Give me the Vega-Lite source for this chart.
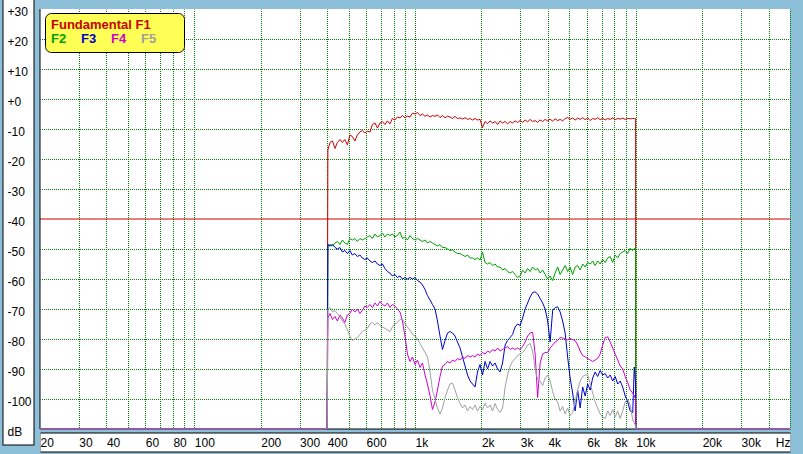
{
"$schema":"https://vega.github.io/schema/vega-lite/v6.json",
"width":750,"height":420,
"autosize":{"type":"none"},
"padding":{"left":40,"top":9,"right":13,"bottom":25},
"background":"#8EBFD9",
"config":{"view":{"stroke":null,"fill":"white"}},
"data":{"values":[
{"f":20,"F1":-110,"F2":-110,"F3":-110,"F4":-110,"F5":-110},
{"f":400,"F1":-110,"F2":-110,"F3":-110,"F4":-110,"F5":-110},
{"f":403,"F1":-17,"F2":-49,"F3":-48.5,"F4":-73,"F5":-70},
{"f":412,"F1":-14.5,"F2":-48.5,"F3":-49,"F4":-71.5,"F5":-69.5},
{"f":423,"F1":-14,"F2":-49,"F3":-48.5,"F4":-73.5,"F5":-71},
{"f":434,"F1":-16.5,"F2":-48,"F3":-49.5,"F4":-72.5,"F5":-70.5},
{"f":445,"F1":-14.5,"F2":-47.5,"F3":-50,"F4":-74,"F5":-71.5},
{"f":457,"F1":-13.5,"F2":-48.5,"F3":-49.5,"F4":-72,"F5":-72.5},
{"f":469,"F1":-14.5,"F2":-47,"F3":-51,"F4":-73,"F5":-74},
{"f":481,"F1":-13.5,"F2":-48,"F3":-50.5,"F4":-74.5,"F5":-75},
{"f":494,"F1":-15.3,"F2":-48.5,"F3":-51.5,"F4":-72,"F5":-77},
{"f":507,"F1":-12,"F2":-46.5,"F3":-50.5,"F4":-71.5,"F5":-79},
{"f":520,"F1":-12.5,"F2":-47,"F3":-52,"F4":-70,"F5":-80.5},
{"f":534,"F1":-14,"F2":-46.5,"F3":-51.5,"F4":-71,"F5":-80},
{"f":548,"F1":-12,"F2":-47.5,"F3":-52.5,"F4":-70,"F5":-79.5},
{"f":563,"F1":-11,"F2":-46.5,"F3":-52,"F4":-71.5,"F5":-78.5},
{"f":577,"F1":-10.5,"F2":-47,"F3":-53,"F4":-70.5,"F5":-77.5},
{"f":593,"F1":-11.3,"F2":-46.5,"F3":-53.5,"F4":-69,"F5":-77},
{"f":608,"F1":-10.7,"F2":-46,"F3":-53,"F4":-69.5,"F5":-76.5},
{"f":625,"F1":-11,"F2":-45.5,"F3":-54,"F4":-68.5,"F5":-75},
{"f":641,"F1":-8.5,"F2":-46.5,"F3":-54.5,"F4":-69.5,"F5":-74.5},
{"f":659,"F1":-8,"F2":-45,"F3":-54,"F4":-68,"F5":-75.3},
{"f":676,"F1":-9.7,"F2":-46,"F3":-55,"F4":-69,"F5":-74.5},
{"f":694,"F1":-8,"F2":-45.5,"F3":-55.5,"F4":-67.5,"F5":-75.5},
{"f":712,"F1":-7.5,"F2":-44.7,"F3":-55,"F4":-68.5,"F5":-76},
{"f":731,"F1":-8.5,"F2":-46,"F3":-56.5,"F4":-69,"F5":-76.5},
{"f":750,"F1":-7.3,"F2":-45,"F3":-57.5,"F4":-68,"F5":-77},
{"f":770,"F1":-8.3,"F2":-45.5,"F3":-58,"F4":-69.5,"F5":-77.5},
{"f":790,"F1":-6.5,"F2":-45,"F3":-59,"F4":-68.5,"F5":-76},
{"f":811,"F1":-7,"F2":-46,"F3":-58.5,"F4":-69,"F5":-75},
{"f":832,"F1":-6,"F2":-45.5,"F3":-59.5,"F4":-70,"F5":-74.5},
{"f":855,"F1":-6.3,"F2":-44.3,"F3":-59,"F4":-71,"F5":-73.5},
{"f":877,"F1":-5.5,"F2":-46.5,"F3":-60,"F4":-74,"F5":-73.3},
{"f":901,"F1":-6.3,"F2":-46,"F3":-59.5,"F4":-79,"F5":-75},
{"f":924,"F1":-5.7,"F2":-47,"F3":-60,"F4":-85,"F5":-76},
{"f":949,"F1":-6,"F2":-45.5,"F3":-59.5,"F4":-87.5,"F5":-77},
{"f":974,"F1":-4.7,"F2":-46.5,"F3":-60,"F4":-86,"F5":-78.5},
{"f":1000,"F1":-5,"F2":-47,"F3":-59.5,"F4":-88.5,"F5":-79},
{"f":1026,"F1":-4.5,"F2":-46.5,"F3":-60.5,"F4":-87,"F5":-80},
{"f":1054,"F1":-5.5,"F2":-47,"F3":-61,"F4":-89.5,"F5":-81.5},
{"f":1081,"F1":-5,"F2":-47.5,"F3":-62,"F4":-88,"F5":-83},
{"f":1110,"F1":-5.8,"F2":-47,"F3":-63.5,"F4":-92,"F5":-84.5},
{"f":1139,"F1":-5.3,"F2":-48,"F3":-65.5,"F4":-95,"F5":-86},
{"f":1170,"F1":-6,"F2":-47.5,"F3":-67,"F4":-99,"F5":-91},
{"f":1200,"F1":-5.5,"F2":-48,"F3":-68.5,"F4":-103.5,"F5":-97},
{"f":1232,"F1":-5.8,"F2":-48.5,"F3":-70,"F4":-101,"F5":-100},
{"f":1264,"F1":-5.3,"F2":-49,"F3":-74,"F4":-97,"F5":-103},
{"f":1298,"F1":-6.2,"F2":-48.5,"F3":-79,"F4":-92.5,"F5":-105},
{"f":1332,"F1":-5.5,"F2":-49.5,"F3":-83.5,"F4":-89,"F5":-103},
{"f":1368,"F1":-6.3,"F2":-49.5,"F3":-80.5,"F4":-88.5,"F5":-99.5},
{"f":1404,"F1":-5.7,"F2":-50,"F3":-78,"F4":-87.5,"F5":-97},
{"f":1441,"F1":-6,"F2":-50.5,"F3":-77.5,"F4":-88,"F5":-95},
{"f":1479,"F1":-6.5,"F2":-50.3,"F3":-78,"F4":-87,"F5":-94.7},
{"f":1518,"F1":-5.8,"F2":-51,"F3":-79,"F4":-87.5,"F5":-97},
{"f":1558,"F1":-6.5,"F2":-51.5,"F3":-81,"F4":-86.5,"F5":-99.5},
{"f":1600,"F1":-6.3,"F2":-51.5,"F3":-83,"F4":-87,"F5":-101.5},
{"f":1642,"F1":-6.7,"F2":-52,"F3":-86,"F4":-86,"F5":-103},
{"f":1686,"F1":-6.2,"F2":-52.5,"F3":-89,"F4":-86.5,"F5":-102},
{"f":1730,"F1":-6.8,"F2":-52,"F3":-92,"F4":-85.5,"F5":-104},
{"f":1776,"F1":-6.5,"F2":-53,"F3":-94,"F4":-86,"F5":-102.5},
{"f":1823,"F1":-7,"F2":-53,"F3":-95,"F4":-85.5,"F5":-103.5},
{"f":1871,"F1":-6.5,"F2":-53.5,"F3":-96,"F4":-86,"F5":-102},
{"f":1920,"F1":-7,"F2":-53,"F3":-91,"F4":-85,"F5":-104},
{"f":1971,"F1":-6.8,"F2":-53.7,"F3":-88.5,"F4":-85.5,"F5":-102.5},
{"f":2023,"F1":-9.5,"F2":-51,"F3":-92,"F4":-84.5,"F5":-103.5},
{"f":2077,"F1":-7.5,"F2":-54.5,"F3":-87.5,"F4":-85,"F5":-101.5},
{"f":2132,"F1":-8.2,"F2":-55,"F3":-90,"F4":-84,"F5":-103},
{"f":2188,"F1":-7.3,"F2":-54.5,"F3":-87.5,"F4":-84.5,"F5":-102},
{"f":2246,"F1":-8,"F2":-55.5,"F3":-89,"F4":-83.5,"F5":-104},
{"f":2306,"F1":-7.5,"F2":-55,"F3":-88,"F4":-84,"F5":-101.5},
{"f":2367,"F1":-8.5,"F2":-56,"F3":-90,"F4":-83,"F5":-103.5},
{"f":2429,"F1":-7.3,"F2":-56,"F3":-91,"F4":-84,"F5":-104.5},
{"f":2493,"F1":-8,"F2":-57,"F3":-88,"F4":-83.5,"F5":-103},
{"f":2560,"F1":-7.5,"F2":-56.5,"F3":-82,"F4":-83,"F5":-96},
{"f":2627,"F1":-8.3,"F2":-57.5,"F3":-80.5,"F4":-82.5,"F5":-92},
{"f":2697,"F1":-7.5,"F2":-58,"F3":-79.5,"F4":-83.5,"F5":-89},
{"f":2768,"F1":-8,"F2":-57.5,"F3":-78.5,"F4":-83,"F5":-87.5},
{"f":2841,"F1":-7.3,"F2":-58.5,"F3":-76,"F4":-83.5,"F5":-86.5},
{"f":2917,"F1":-7.8,"F2":-59.5,"F3":-75,"F4":-83,"F5":-85.5},
{"f":2994,"F1":-7.2,"F2":-59,"F3":-75.5,"F4":-83.5,"F5":-85},
{"f":3073,"F1":-7.8,"F2":-57,"F3":-73,"F4":-82.5,"F5":-84.5},
{"f":3155,"F1":-7,"F2":-58,"F3":-70,"F4":-81,"F5":-83.5},
{"f":3238,"F1":-7.6,"F2":-56.5,"F3":-68,"F4":-79,"F5":-82},
{"f":3323,"F1":-6.8,"F2":-57.5,"F3":-66,"F4":-78,"F5":-81.5},
{"f":3412,"F1":-7.5,"F2":-56,"F3":-64.5,"F4":-77.7,"F5":-84},
{"f":3502,"F1":-7.2,"F2":-57,"F3":-64.3,"F4":-85,"F5":-90},
{"f":3594,"F1":-7.8,"F2":-56.5,"F3":-65,"F4":-99.5,"F5":-93.5},
{"f":3689,"F1":-7,"F2":-58,"F3":-66.5,"F4":-88,"F5":-94},
{"f":3787,"F1":-7.5,"F2":-57,"F3":-68,"F4":-85,"F5":-95.5},
{"f":3887,"F1":-6.8,"F2":-58.5,"F3":-70,"F4":-84.5,"F5":-93},
{"f":3990,"F1":-7.3,"F2":-60,"F3":-74,"F4":-84.5,"F5":-92},
{"f":4095,"F1":-6.7,"F2":-59,"F3":-81,"F4":-83,"F5":-94},
{"f":4204,"F1":-7.4,"F2":-60.5,"F3":-70.5,"F4":-82,"F5":-97.5},
{"f":4314,"F1":-6.6,"F2":-58,"F3":-69.5,"F4":-81,"F5":-100},
{"f":4429,"F1":-7.2,"F2":-56,"F3":-69.3,"F4":-80.5,"F5":-101},
{"f":4546,"F1":-6.8,"F2":-58.5,"F3":-71,"F4":-79.5,"F5":-104},
{"f":4666,"F1":-7.3,"F2":-57,"F3":-74,"F4":-79.7,"F5":-102.5},
{"f":4789,"F1":-6.5,"F2":-55.5,"F3":-78,"F4":-80,"F5":-105},
{"f":4916,"F1":-6.2,"F2":-57.5,"F3":-86,"F4":-80.3,"F5":-103},
{"f":5045,"F1":-6.8,"F2":-56,"F3":-93,"F4":-79.8,"F5":-105.5},
{"f":5179,"F1":-6.3,"F2":-58.5,"F3":-98,"F4":-80.2,"F5":-104.5},
{"f":5316,"F1":-7,"F2":-56,"F3":-104,"F4":-80.5,"F5":-101},
{"f":5456,"F1":-6.4,"F2":-55.5,"F3":-97,"F4":-82,"F5":-97},
{"f":5601,"F1":-6.8,"F2":-57,"F3":-103,"F4":-84,"F5":-94},
{"f":5749,"F1":-6.2,"F2":-55,"F3":-96,"F4":-85.5,"F5":-92.5},
{"f":5901,"F1":-6.9,"F2":-56,"F3":-99,"F4":-86,"F5":-92},
{"f":6057,"F1":-6.3,"F2":-54.5,"F3":-95,"F4":-86.5,"F5":-92},
{"f":6218,"F1":-7.2,"F2":-55,"F3":-97,"F4":-87,"F5":-95},
{"f":6382,"F1":-6.5,"F2":-54,"F3":-93,"F4":-87.5,"F5":-98},
{"f":6551,"F1":-6.8,"F2":-55.5,"F3":-91,"F4":-87,"F5":-101},
{"f":6724,"F1":-6.2,"F2":-54,"F3":-92.5,"F4":-86.5,"F5":-103},
{"f":6902,"F1":-6.9,"F2":-55,"F3":-90.5,"F4":-85,"F5":-105},
{"f":7084,"F1":-6.4,"F2":-53.5,"F3":-92,"F4":-82,"F5":-106},
{"f":7272,"F1":-7,"F2":-54.5,"F3":-91.5,"F4":-79.5,"F5":-106.5},
{"f":7464,"F1":-6.5,"F2":-53,"F3":-93,"F4":-79.3,"F5":-104},
{"f":7662,"F1":-6.8,"F2":-52.5,"F3":-92,"F4":-81,"F5":-105.5},
{"f":7864,"F1":-6.3,"F2":-54.5,"F3":-94,"F4":-83,"F5":-103.5},
{"f":8072,"F1":-6.9,"F2":-52,"F3":-92.5,"F4":-85,"F5":-106},
{"f":8286,"F1":-6.5,"F2":-53,"F3":-95,"F4":-87,"F5":-104},
{"f":8505,"F1":-6.7,"F2":-51.5,"F3":-94,"F4":-89,"F5":-106.5},
{"f":8730,"F1":-6.4,"F2":-51,"F3":-96,"F4":-90,"F5":-104},
{"f":8961,"F1":-6.8,"F2":-50.5,"F3":-99,"F4":-92.5,"F5":-101},
{"f":9198,"F1":-6.5,"F2":-51.5,"F3":-101,"F4":-94.5,"F5":-100},
{"f":9442,"F1":-6.6,"F2":-49.7,"F3":-104,"F4":-97,"F5":-102},
{"f":9692,"F1":-6.5,"F2":-50.5,"F3":-104.5,"F4":-98,"F5":-107},
{"f":9850,"F1":-6.5,"F2":-50,"F3":-89.3,"F4":-99,"F5":-108},
{"f":9990,"F1":-6.5,"F2":-49.5,"F3":-95,"F4":-100,"F5":-109},
{"f":10000,"F1":-110,"F2":-110,"F3":-110,"F4":-110,"F5":-110},
{"f":50000,"F1":-110,"F2":-110,"F3":-110,"F4":-110,"F5":-110}
]},
"resolve":{"axis":{"x":"independent","y":"independent"}},
"layer":[
{"data":{"values":[{"v":-40}]},"mark":{"type":"rule","color":"#CC0000","strokeWidth":1},
 "encoding":{"y":{"field":"v","type":"quantitative","axis":null}}},
{"data":{"values":[{"v":-110}]},"mark":{"type":"rule","color":"black","strokeWidth":1},
 "encoding":{"y":{"field":"v","type":"quantitative","axis":null}}},
{"data":{"values":[{"v":20}]},"mark":{"type":"rule","color":"black","strokeWidth":1},
 "encoding":{"x":{"field":"v","type":"quantitative","axis":null}}},
{"mark":{"type":"line","strokeWidth":1,"clip":false},
 "encoding":{
  "x":{"field":"f","type":"quantitative","scale":{"type":"log","domain":[20,50000],"nice":false},
   "axis":{"orient":"bottom","title":null,"labels":false,"ticks":false,"grid":false,"domain":true,"domainColor":"black","domainWidth":20,"domainCap":"butt","offset":13}},
  "y":{"field":"F1","type":"quantitative","scale":{"domain":[-110,30],"nice":false,"zero":false},
   "axis":{"orient":"left","title":null,"labels":false,"ticks":false,"grid":false,"domain":true,"domainColor":"black","domainWidth":32,"domainCap":"square","offset":22}},
  "color":{"datum":"F1","type":"nominal",
   "scale":{"domain":["F1","F2","F3","F4","F5"],"range":["#CC0000","#00A000","#0000D0","#D000D0","#A0A0A0"]},
   "legend":{"orient":"none","legendX":5,"legendY":4,"values":["F2","F3","F4","F5","F1"],
    "title":"Fundamental F1","titleColor":"#C80000","titleFont":"Liberation Sans","titleFontSize":13,"titleFontWeight":"bold","titlePadding":0,
    "labelExpr":"datum.value == 'F1' ? '' : datum.label",
    "labelFont":"Liberation Sans","labelFontSize":13,"labelFontWeight":"bold","labelOffset":-13,
    "columns":5,"columnPadding":14,
    "symbolType":"circle","symbolSize":1,"symbolStrokeWidth":0,"symbolOpacity":0,
    "fillColor":"#FFFF55","strokeColor":"black","cornerRadius":6,"padding":6,
    "encode":{"labels":{"update":{"fill":{"scale":"color","field":"value"}}}}}}}},
{"mark":{"type":"line","strokeWidth":1,"clip":false},
 "encoding":{
  "x":{"field":"f","type":"quantitative",
   "axis":{"orient":"bottom","title":null,"labels":false,"ticks":false,"grid":false,"domain":true,"domainColor":"white","domainWidth":18,"domainCap":"butt","offset":13}},
  "y":{"field":"F2","type":"quantitative",
   "axis":{"orient":"left","title":null,"labels":false,"ticks":false,"grid":false,"domain":true,"domainColor":"white","domainWidth":30,"domainCap":"square","offset":22}},
  "color":{"datum":"F2","type":"nominal"}}},
{"mark":{"type":"line","strokeWidth":1,"clip":false},
 "encoding":{
  "x":{"field":"f","type":"quantitative",
   "axis":{"orient":"bottom","zindex":1,"values":[20,30,40,60,80,100,200,300,400,600,1000,2000,3000,4000,6000,8000,10000,20000,30000,50000],
    "title":null,
    "labelExpr":"datum.value == 50000 ? 'Hz' : (datum.value >= 1000 ? (datum.value / 1000) + 'k' : '' + datum.value)",
    "ticks":false,"tickSize":0,"domain":false,"grid":false,"offset":13,
    "labelAlign":{"condition":{"test":"datum.value == 50000","value":"right"},"value":"left"},
    "labelBaseline":"middle","labelPadding":0,
    "labelFont":"Liberation Sans","labelFontSize":12,"labelColor":"black","labelOverlap":false,"labelBound":false,"labelFlush":false}},
  "y":{"field":"F3","type":"quantitative",
   "axis":{"orient":"left","zindex":1,"values":[-110,-100,-90,-80,-70,-60,-50,-40,-30,-20,-10,0,10,20,30],
    "title":null,
    "labelExpr":"datum.value == -110 ? 'dB' : (datum.value >= 0 ? '+' + datum.value : '' + datum.value)",
    "ticks":false,"tickSize":0,"domain":false,"grid":false,"offset":22,
    "labelAlign":"left","labelBaseline":"middle","labelPadding":11,"labelOffset":2,
    "labelFont":"Liberation Sans","labelFontSize":12,"labelColor":"black","labelOverlap":false,"labelBound":false,"labelFlush":false}},
  "color":{"datum":"F3","type":"nominal"}}},
{"mark":{"type":"line","strokeWidth":1,"clip":false},
 "encoding":{
  "x":{"field":"f","type":"quantitative",
   "axis":{"orient":"bottom","values":[30,40,50,60,70,80,90,100,200,300,400,500,600,700,800,900,1000,2000,3000,4000,5000,6000,7000,8000,9000,10000,20000,30000,40000,50000],
    "title":null,"labels":false,"ticks":false,"domain":false,"grid":true,"gridColor":"#008000","gridDash":[1,1],"gridDashOffset":0.5,"gridOpacity":1,"gridWidth":1}},
  "y":{"field":"F4","type":"quantitative",
   "axis":{"orient":"left","values":[-100,-90,-80,-70,-60,-50,-30,-20,-10,0,10,20],
    "title":null,"labels":false,"ticks":false,"domain":false,"grid":true,"gridColor":"#008000","gridDash":[1,1],"gridDashOffset":0.5,"gridOpacity":1,"gridWidth":1}},
  "color":{"datum":"F4","type":"nominal"}}},
{"mark":{"type":"line","strokeWidth":1,"clip":false},
 "encoding":{
  "x":{"field":"f","type":"quantitative","axis":null},
  "y":{"field":"F5","type":"quantitative","axis":null},
  "color":{"datum":"F5","type":"nominal"}}}
]
}
